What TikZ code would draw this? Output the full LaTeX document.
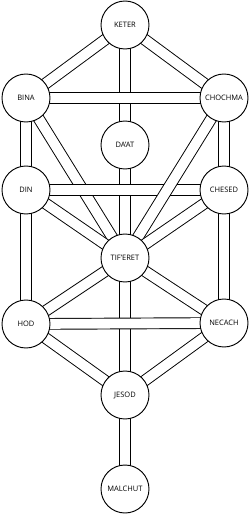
\documentclass[tikz,border=0pt]{standalone}
\usepackage{fontspec}
\setmainfont{Open Sans}
\usetikzlibrary{backgrounds}
\begin{document}
\begin{tikzpicture}[x=0.03cm,y=-0.03cm,
  sephira/.style={circle, draw, fill=white, line width=0.8pt, minimum size=1.44cm, inner sep=0pt, font=\fontsize{6.4}{7}\selectfont},
  channel/.style={draw, line width=0.8pt, double=white, double distance=8.4pt}]
\useasboundingbox (0,0) rectangle (250,514);
\node[sephira] (keter)   at (125,25)  {KETER};
\node[sephira] (bina)    at (26,98)   {BINA};
\node[sephira] (chochma) at (224,98)  {CHOCHMA};
\node[sephira] (daat)    at (125,145) {DA’AT};
\node[sephira] (din)     at (26,190)  {DIN};
\node[sephira] (chesed)  at (224,190) {CHESED};
\node[sephira] (tiferet) at (125,258) {TIF’ERET};
\node[sephira] (hod)     at (26,324)  {HOD};
\node[sephira] (necach)  at (224,323) {NECACH};
\node[sephira] (jesod)   at (125,395) {JESOD};
\node[sephira] (malchut) at (125,489) {MALCHUT};
\begin{pgfonlayer}{background}
\fill[white] (0,0) rectangle (250,514);
\draw[channel] (keter.center) -- (daat.center);
\draw[channel] (daat.center) -- (tiferet.center);
\draw[channel] (tiferet.center) -- (jesod.center);
\draw[channel] (bina.center) -- (tiferet.center);
\draw[channel] (keter.center) -- (bina.center);
\draw[channel] (keter.center) -- (chochma.center);
\draw[channel] (bina.center) -- (chochma.center);
\draw[channel] (bina.center) -- (din.center);
\draw[channel] (chochma.center) -- (chesed.center);
\draw[channel] (din.center) -- (chesed.center);
\draw[channel] (chochma.center) -- (tiferet.center);
\draw[channel] (din.center) -- (tiferet.center);
\draw[channel] (chesed.center) -- (tiferet.center);
\draw[channel] (din.center) -- (hod.center);
\draw[channel] (chesed.center) -- (necach.center);
\draw[channel] (tiferet.center) -- (hod.center);
\draw[channel] (tiferet.center) -- (necach.center);
\draw[channel] (hod.center) -- (necach.center);
\draw[channel] (hod.center) -- (jesod.center);
\draw[channel] (necach.center) -- (jesod.center);
\draw[channel] (jesod.center) -- (malchut.center);
\end{pgfonlayer}
\end{tikzpicture}
\end{document}
